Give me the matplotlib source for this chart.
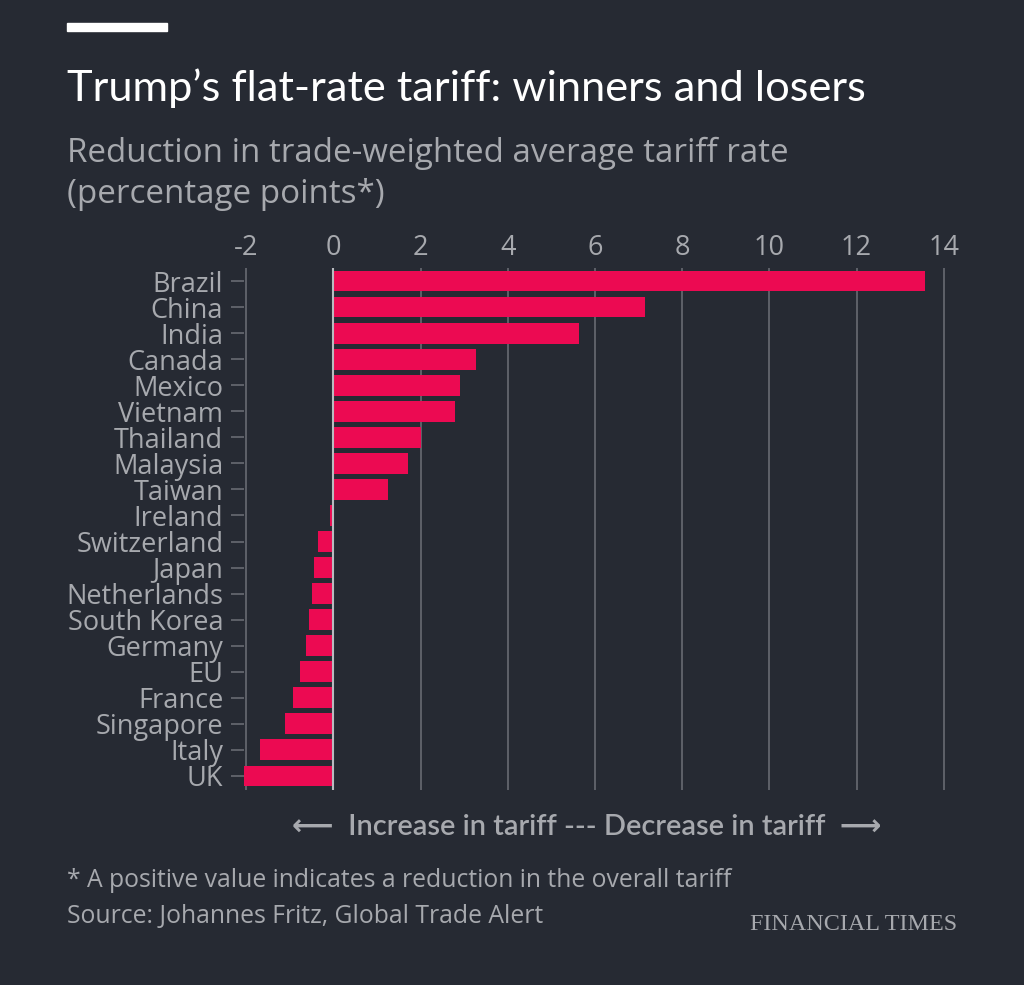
import matplotlib
matplotlib.use('Agg')
import matplotlib.pyplot as plt
from matplotlib.patches import Rectangle

# 数据：关税变化（百分点）
countries = ['Brazil', 'China', 'India', 'Canada', 'Mexico', 'Vietnam', 'Thailand',
             'Malaysia', 'Taiwan', 'Ireland', 'Switzerland', 'Japan', 'Netherlands',
             'South Korea', 'Germany', 'EU', 'France', 'Singapore', 'Italy', 'UK']
values = [13.56, 7.14, 5.63, 3.27, 2.90, 2.80, 2.02, 1.70, 1.26, -0.08,
          -0.35, -0.44, -0.50, -0.56, -0.62, -0.76, -0.93, -1.12, -1.69, -2.04]
xticks = [-2, 0, 2, 4, 6, 8, 10, 12, 14]

BG = '#262a33'
BAR = '#ec0a52'
GREY = '#a7a9ae'
GRID = '#62656d'
W, H = 1024, 985

plt.rcParams['font.family'] = ['Open Sans', 'DejaVu Sans']

fig = plt.figure(figsize=(W / 100, H / 100), dpi=100, facecolor=BG)


def fx(px):
    return px / W


def fy(py):
    return 1 - py / H


ax = fig.add_axes([fx(244), fy(790), fx(946) - fx(244), fy(268) - fy(790)])
ax.set_facecolor(BG)

ypos = list(range(len(countries)))
ax.barh(ypos, values, height=0.8, color=BAR, zorder=3)
ax.set_ylim(19.54, -0.5)
ax.set_xlim(-2.05, 14.05)

ax.set_xticks(xticks)
ax.set_xticklabels([str(t) for t in xticks])
ax.xaxis.tick_top()
ax.tick_params(axis='x', length=0, pad=4, labelsize=19.5, labelcolor=GREY)
ax.set_yticks(ypos)
ax.set_yticklabels(countries)
ax.tick_params(axis='y', length=9.4, width=1.3, color=GRID, pad=5.5,
               labelsize=19.5, labelcolor=GREY)
ax.grid(axis='x', color=GRID, linewidth=1.3, zorder=1)
ax.axvline(0, color='#b9bbc0', linewidth=1.5, zorder=4)
for s in ax.spines.values():
    s.set_visible(False)

# 顶部白条
fig.patches.append(Rectangle((fx(67), fy(31)), fx(100), fy(23) - fy(31),
                             transform=fig.transFigure, color='white'))

fig.text(fx(67), fy(101), 'Trump\u2019s flat-rate tariff: winners and losers',
         color='white', fontsize=31.2, va='baseline', family='Lato')
fig.text(fx(67), fy(162), 'Reduction in trade-weighted average tariff rate',
         color=GREY, fontsize=23.9, va='baseline')
fig.text(fx(67), fy(203), '(percentage points*)',
         color=GREY, fontsize=23.9, va='baseline')

fig.text(fx(587), fy(835), '\u27f5  Increase in tariff --- Decrease in tariff  \u27f6',
         color=GREY, fontsize=20.9, ha='center', va='baseline', fontweight='semibold',
         family=['Lato', 'DejaVu Sans'])
fig.text(fx(67), fy(887), '* A positive value indicates a reduction in the overall tariff',
         color=GREY, fontsize=17.8, va='baseline')
fig.text(fx(67), fy(923), 'Source: Johannes Fritz, Global Trade Alert',
         color=GREY, fontsize=17.8, va='baseline')
fig.text(fx(957), fy(930), 'FINANCIAL TIMES', color=GREY, fontsize=17.4,
         ha='right', va='baseline', family='Liberation Serif')

fig.savefig('out.png', dpi=100, facecolor=BG)
